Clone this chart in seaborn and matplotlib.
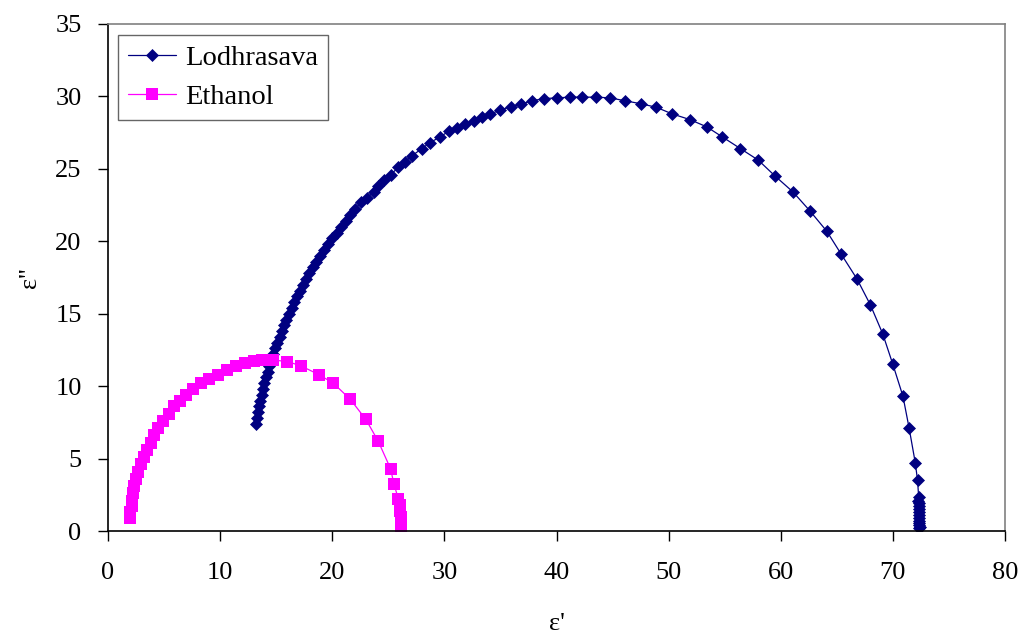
import numpy as np
import matplotlib
matplotlib.use('Agg')
import matplotlib.pyplot as plt
import pandas as pd
import seaborn as sns

lodh_x = [13.2, 13.3, 13.4, 13.5, 13.6, 13.7, 13.8, 13.95, 14.1, 14.25, 14.4, 14.6, 14.75, 14.9,
          15.1, 15.3, 15.5, 15.7, 15.9, 16.15, 16.4, 16.6, 16.85, 17.1, 17.35, 17.65, 17.95, 18.25,
          18.55, 18.9, 19.25, 19.6, 20.0, 20.4, 20.8, 21.2, 21.6, 22.0, 22.6, 23.1, 23.7, 24.1,
          24.6, 25.2, 25.9, 26.5, 27.1, 28.0, 28.7, 29.6, 30.4, 31.1, 31.8, 32.6, 33.4, 34.1,
          35.0, 35.9, 36.8, 37.8, 38.9, 40.0, 41.2, 42.3, 43.5, 44.8, 46.1, 47.5, 48.9, 50.3,
          51.9, 53.4, 54.8, 56.4, 58.0, 59.5, 61.1, 62.6, 64.1, 65.4, 66.8, 68.0, 69.1, 70.0,
          70.9, 71.45, 72.0, 72.2, 72.3, 72.25, 72.3, 72.35, 72.3, 72.3, 72.35, 72.3, 72.35,
          72.3, 72.35, 72.4, 72.35]
lodh_y = [7.4, 7.8, 8.2, 8.6, 9.0, 9.4, 9.8, 10.2, 10.6, 11.0, 11.4, 11.8, 12.2, 12.6,
          13.0, 13.4, 13.8, 14.2, 14.6, 15.0, 15.4, 15.8, 16.2, 16.6, 17.0, 17.4, 17.8, 18.2,
          18.6, 19.0, 19.4, 19.8, 20.2, 20.6, 21.0, 21.4, 21.8, 22.2, 22.7, 23.0, 23.4, 23.8,
          24.2, 24.6, 25.1, 25.5, 25.9, 26.4, 26.8, 27.2, 27.6, 27.8, 28.1, 28.3, 28.6, 28.8,
          29.05, 29.3, 29.45, 29.7, 29.85, 29.9, 29.95, 29.95, 29.95, 29.9, 29.7, 29.5, 29.25, 28.8,
          28.4, 27.9, 27.2, 26.4, 25.6, 24.5, 23.4, 22.1, 20.7, 19.1, 17.4, 15.6, 13.6, 11.5,
          9.3, 7.1, 4.7, 3.5, 2.35, 2.1, 1.9, 1.7, 1.5, 1.3, 1.1, 0.9, 0.7,
          0.55, 0.4, 0.3, 0.2]

eth_x = [2.0, 2.0, 2.1, 2.15, 2.25, 2.35, 2.5, 2.7, 2.95, 3.2, 3.5, 3.8, 4.1, 4.5, 4.9,
         5.4, 5.9, 6.4, 7.0, 7.6, 8.3, 9.0, 9.8, 10.6, 11.4, 12.2, 13.0, 13.7, 14.75, 16.0,
         17.2, 18.8, 20.1, 21.6, 23.0, 24.1, 25.2, 25.5, 25.9, 26.0, 26.0, 26.1, 26.1, 26.1, 26.1]
eth_y = [0.9, 1.3, 1.7, 2.1, 2.6, 3.1, 3.6, 4.1, 4.6, 5.1, 5.6, 6.1, 6.6, 7.1, 7.6,
         8.1, 8.6, 9.0, 9.4, 9.8, 10.2, 10.5, 10.8, 11.1, 11.4, 11.6, 11.75, 11.8, 11.8, 11.7,
         11.4, 10.8, 10.2, 9.1, 7.7, 6.2, 4.3, 3.25, 2.2, 1.8, 1.4, 1.0, 0.7, 0.4, 0.15]

x_ticks = [0, 10, 20, 30, 40, 50, 60, 70, 80]
y_ticks = [0, 5, 10, 15, 20, 25, 30, 35]

sns.set_theme(style='white')
plt.rcParams['font.family'] = ['Liberation Serif', 'DejaVu Serif']
plt.rcParams['text.color'] = 'black'
plt.rcParams['axes.labelcolor'] = 'black'
plt.rcParams['xtick.color'] = 'black'
plt.rcParams['ytick.color'] = 'black'

fig = plt.figure(figsize=(10.23, 6.39), dpi=100)
ax = fig.add_axes([108 / 1023, 1 - 531 / 639, 897 / 1023, 507 / 639])

sns.lineplot(x=lodh_x, y=lodh_y, sort=False, estimator=None, ax=ax, color='#000080',
             linewidth=0.9, marker='D', markersize=6, markeredgewidth=0.5,
             markeredgecolor='#000080', label='Lodhrasava')
sns.lineplot(x=eth_x, y=eth_y, sort=False, estimator=None, ax=ax, color='#FF00FF',
             linewidth=0.9, marker='s', markersize=8.5, markeredgewidth=0,
             label='Ethanol')

ax.set_xlim(0, 80)
ax.set_ylim(0, 35)
ax.set_xticks(x_ticks)
ax.set_yticks(y_ticks)
ax.tick_params(axis='both', direction='out', length=7, width=1, color='black',
               labelcolor='black', labelsize=19, bottom=True, left=True)
ax.tick_params(axis='x', pad=15)
ax.tick_params(axis='y', pad=12)

for s in ['left', 'bottom']:
    ax.spines[s].set_color('black')
    ax.spines[s].set_linewidth(1.2)
for s in ['top', 'right']:
    ax.spines[s].set_color('#808080')
    ax.spines[s].set_linewidth(1.2)

ax.set_xlabel("ε'", fontsize=19, labelpad=21)
ax.set_ylabel("ε''", fontsize=19, labelpad=10)

leg = ax.legend(loc='upper left', bbox_to_anchor=(10 / 897, 1 - 11 / 507), borderaxespad=0,
                fontsize=20.5, frameon=True, fancybox=False, handlelength=1.7,
                handletextpad=0.3, borderpad=0.35, labelspacing=0.45)
leg.get_frame().set_edgecolor('#404040')
leg.get_frame().set_linewidth(1)
for t in leg.get_texts():
    t.set_color('black')

plt.savefig('out.png', dpi=100)
